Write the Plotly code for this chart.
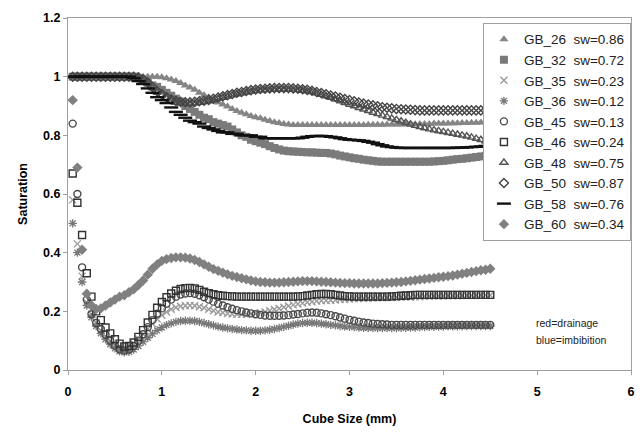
import plotly.graph_objects as go

X = [0.05, 0.10, 0.15, 0.20, 0.25, 0.30, 0.35, 0.40, 0.45, 0.50,
     0.55, 0.60, 0.65, 0.70, 0.75, 0.80, 0.85, 0.90, 0.95, 1.00,
     1.05, 1.10, 1.15, 1.20, 1.25, 1.30, 1.35, 1.40, 1.45, 1.50,
     1.55, 1.60, 1.65, 1.70, 1.75, 1.80, 1.85, 1.90, 1.95, 2.00,
     2.05, 2.10, 2.15, 2.20, 2.25, 2.30, 2.35, 2.40, 2.45, 2.50,
     2.55, 2.60, 2.65, 2.70, 2.75, 2.80, 2.85, 2.90, 2.95, 3.00,
     3.05, 3.10, 3.15, 3.20, 3.25, 3.30, 3.35, 3.40, 3.45, 3.50,
     3.55, 3.60, 3.65, 3.70, 3.75, 3.80, 3.85, 3.90, 3.95, 4.00,
     4.05, 4.10, 4.15, 4.20, 4.25, 4.30, 4.35, 4.40, 4.45, 4.50]

GB_26 = [1, 1, 1, 1, 1, 1, 1, 1, 1, 1,
         1, 1, 1, 1, 1, 1, 1, 1, 1, 0.998,
         0.995, 0.99, 0.985, 0.978, 0.97, 0.963, 0.955, 0.945, 0.937, 0.93,
         0.92, 0.912, 0.905, 0.898, 0.89, 0.883, 0.877, 0.872, 0.866, 0.862,
         0.858, 0.853, 0.849, 0.845, 0.842, 0.839, 0.837, 0.835, 0.835, 0.835,
         0.835, 0.835, 0.835, 0.835, 0.835, 0.835, 0.835, 0.835, 0.835, 0.835,
         0.835, 0.835, 0.835, 0.836, 0.836, 0.836, 0.836, 0.837, 0.837, 0.837,
         0.837, 0.838, 0.838, 0.838, 0.839, 0.839, 0.839, 0.84, 0.84, 0.84,
         0.84, 0.841, 0.841, 0.842, 0.842, 0.843, 0.843, 0.844, 0.845, 0.846]

GB_32 = [1, 1, 1, 1, 1, 1, 1, 1, 1, 1,
         1, 1, 1, 1, 0.995, 0.99, 0.98, 0.97, 0.965, 0.955,
         0.945, 0.935, 0.925, 0.915, 0.9, 0.89, 0.88, 0.87, 0.86, 0.855,
         0.845, 0.84, 0.835, 0.83, 0.82, 0.81, 0.80, 0.795, 0.785, 0.78,
         0.775, 0.77, 0.763, 0.757, 0.752, 0.748, 0.746, 0.745, 0.744, 0.743,
         0.742, 0.742, 0.741, 0.74, 0.74, 0.738, 0.735, 0.731, 0.728, 0.725,
         0.722, 0.72, 0.717, 0.715, 0.713, 0.711, 0.71, 0.71, 0.71, 0.71,
         0.71, 0.71, 0.71, 0.71, 0.71, 0.71, 0.71, 0.711, 0.712, 0.713,
         0.715, 0.717, 0.719, 0.72, 0.722, 0.724, 0.726, 0.728, 0.73, 0.733]

GB_35 = [0.58, 0.43, 0.32, 0.23, 0.19, 0.16, 0.135, 0.115, 0.098, 0.085,
         0.077, 0.075, 0.08, 0.09, 0.105, 0.122, 0.14, 0.158, 0.174, 0.187,
         0.198, 0.207, 0.213, 0.217, 0.219, 0.22, 0.219, 0.216, 0.212, 0.207,
         0.202, 0.198, 0.195, 0.193, 0.191, 0.19, 0.19, 0.19, 0.191, 0.193,
         0.195, 0.198, 0.202, 0.206, 0.21, 0.214, 0.218, 0.222, 0.225, 0.228,
         0.231, 0.233, 0.235, 0.236, 0.237, 0.238, 0.239, 0.24, 0.241, 0.242,
         0.243, 0.244, 0.244, 0.245, 0.245, 0.246, 0.246, 0.247, 0.247, 0.248,
         0.248, 0.249, 0.249, 0.25, 0.25, 0.251, 0.251, 0.252, 0.252, 0.252,
         0.253, 0.253, 0.253, 0.254, 0.254, 0.254, 0.255, 0.255, 0.255, 0.255]

GB_36 = [0.5, 0.4, 0.3, 0.22, 0.18, 0.15, 0.125, 0.105, 0.088, 0.074,
         0.064, 0.06, 0.062, 0.07, 0.082, 0.096, 0.11, 0.123, 0.135, 0.145,
         0.153, 0.159, 0.164, 0.167, 0.168, 0.168, 0.167, 0.164, 0.16, 0.156,
         0.152, 0.148, 0.145, 0.142, 0.14, 0.138, 0.136, 0.135, 0.134, 0.134,
         0.134, 0.135, 0.137, 0.14, 0.143, 0.147, 0.151, 0.155, 0.158, 0.16,
         0.161, 0.161, 0.16, 0.158, 0.156, 0.154, 0.152, 0.15, 0.148, 0.147,
         0.146, 0.145, 0.144, 0.144, 0.143, 0.143, 0.143, 0.143, 0.143, 0.143,
         0.144, 0.144, 0.145, 0.145, 0.146, 0.146, 0.147, 0.147, 0.148, 0.148,
         0.149, 0.149, 0.149, 0.149, 0.15, 0.15, 0.15, 0.15, 0.15, 0.15]

GB_45 = [0.84, 0.6, 0.35, 0.24, 0.19, 0.16, 0.14, 0.12, 0.1, 0.083,
         0.07, 0.066, 0.07, 0.082, 0.1, 0.122, 0.146, 0.17, 0.192, 0.21,
         0.226, 0.24, 0.25, 0.257, 0.261, 0.262, 0.26, 0.255, 0.248, 0.24,
         0.233, 0.226, 0.22, 0.214, 0.209, 0.204, 0.2, 0.196, 0.193, 0.19,
         0.188, 0.186, 0.185, 0.185, 0.185, 0.186, 0.187, 0.189, 0.191, 0.193,
         0.195, 0.196, 0.195, 0.193, 0.19, 0.187, 0.183, 0.179, 0.175, 0.171,
         0.168, 0.165, 0.162, 0.16, 0.158, 0.157, 0.156, 0.155, 0.154, 0.154,
         0.154, 0.154, 0.154, 0.154, 0.154, 0.154, 0.154, 0.154, 0.154, 0.154,
         0.154, 0.154, 0.154, 0.154, 0.154, 0.154, 0.154, 0.154, 0.154, 0.154]

GB_46 = [0.67, 0.57, 0.46, 0.33, 0.25, 0.2, 0.17, 0.145, 0.125, 0.105,
         0.09, 0.08, 0.082, 0.094, 0.113, 0.136, 0.162, 0.188, 0.212, 0.232,
         0.248, 0.261, 0.27, 0.276, 0.279, 0.28, 0.278, 0.273, 0.267, 0.262,
         0.258, 0.255, 0.253, 0.252, 0.251, 0.25, 0.25, 0.25, 0.25, 0.25,
         0.25, 0.25, 0.25, 0.25, 0.25, 0.25, 0.25, 0.25, 0.251, 0.252,
         0.254, 0.256, 0.258, 0.259, 0.259, 0.258, 0.256, 0.254, 0.252, 0.251,
         0.25, 0.25, 0.25, 0.25, 0.25, 0.25, 0.25, 0.25, 0.251, 0.252,
         0.253, 0.254, 0.255, 0.256, 0.256, 0.256, 0.256, 0.256, 0.256, 0.256,
         0.256, 0.256, 0.256, 0.256, 0.256, 0.256, 0.256, 0.256, 0.256, 0.256]

GB_48 = [1, 1, 1, 1, 1, 1, 1, 1, 1, 1,
         1, 1, 1, 1, 0.996, 0.987, 0.976, 0.961, 0.946, 0.936,
         0.926, 0.918, 0.913, 0.91, 0.909, 0.909, 0.91, 0.912, 0.914, 0.917,
         0.921, 0.925, 0.929, 0.933, 0.937, 0.941, 0.944, 0.947, 0.95, 0.952,
         0.954, 0.955, 0.956, 0.957, 0.957, 0.957, 0.957, 0.956, 0.955, 0.953,
         0.951, 0.948, 0.944, 0.939, 0.934, 0.929, 0.923, 0.917, 0.911, 0.905,
         0.9, 0.894, 0.889, 0.884, 0.878, 0.873, 0.868, 0.863, 0.858, 0.853,
         0.848, 0.843, 0.838, 0.833, 0.829, 0.825, 0.821, 0.818, 0.815, 0.812,
         0.809, 0.806, 0.803, 0.8, 0.797, 0.793, 0.789, 0.785, 0.78, 0.775]

GB_50 = [1, 1, 1, 1, 1, 1, 1, 1, 1, 1,
         1, 1, 1, 1, 0.998, 0.99, 0.98, 0.965, 0.95, 0.94,
         0.93, 0.922, 0.917, 0.914, 0.913, 0.913, 0.914, 0.916, 0.918, 0.921,
         0.925, 0.929, 0.933, 0.937, 0.941, 0.945, 0.948, 0.951, 0.954, 0.956,
         0.958, 0.959, 0.96, 0.961, 0.961, 0.961, 0.961, 0.96, 0.959, 0.957,
         0.955, 0.952, 0.948, 0.944, 0.94, 0.936, 0.932, 0.928, 0.924, 0.92,
         0.916, 0.912, 0.908, 0.905, 0.902, 0.899, 0.896, 0.894, 0.892, 0.89,
         0.889, 0.888, 0.887, 0.886, 0.885, 0.885, 0.885, 0.885, 0.885, 0.885,
         0.885, 0.885, 0.885, 0.885, 0.885, 0.885, 0.885, 0.885, 0.885, 0.885]

GB_58 = [1, 1, 1, 1, 1, 1, 1, 1, 1, 1,
         1, 1, 1, 0.995, 0.985, 0.975, 0.96, 0.945, 0.93, 0.92,
         0.91, 0.895, 0.88, 0.87, 0.86, 0.85, 0.845, 0.84, 0.83, 0.825,
         0.82, 0.815, 0.81, 0.81, 0.805, 0.805, 0.80, 0.80, 0.80, 0.795,
         0.795, 0.79, 0.79, 0.79, 0.79, 0.79, 0.79, 0.79, 0.79, 0.792,
         0.795, 0.797, 0.798, 0.798, 0.797, 0.795, 0.793, 0.79, 0.787, 0.785,
         0.784, 0.783, 0.781, 0.778, 0.775, 0.77, 0.766, 0.762, 0.76, 0.758,
         0.757, 0.757, 0.757, 0.757, 0.757, 0.757, 0.757, 0.757, 0.757, 0.757,
         0.757, 0.757, 0.758, 0.758, 0.759, 0.76, 0.761, 0.762, 0.764, 0.766]

GB_60 = [0.92, 0.69, 0.41, 0.26, 0.22, 0.208, 0.21, 0.22, 0.23, 0.24,
         0.25, 0.255, 0.265, 0.275, 0.29, 0.305, 0.325, 0.345, 0.36, 0.372,
         0.378, 0.382, 0.384, 0.384, 0.383, 0.38, 0.375, 0.368, 0.36, 0.352,
         0.344, 0.338, 0.332, 0.326, 0.321, 0.317, 0.313, 0.309, 0.305, 0.302,
         0.3, 0.299, 0.298, 0.298, 0.298, 0.299, 0.3, 0.301, 0.302, 0.303,
         0.303, 0.303, 0.302, 0.301, 0.3, 0.299, 0.298, 0.297, 0.296, 0.296,
         0.295, 0.295, 0.295, 0.295, 0.295, 0.295, 0.296, 0.297, 0.298, 0.299,
         0.3, 0.302, 0.304, 0.306, 0.308, 0.31, 0.312, 0.314, 0.316, 0.318,
         0.32, 0.322, 0.325, 0.328, 0.331, 0.334, 0.337, 0.34, 0.342, 0.345]

NAMES = ["GB_26", "GB_32", "GB_35", "GB_36", "GB_45",
         "GB_46", "GB_48", "GB_50", "GB_58", "GB_60"]
SW = ["0.86", "0.72", "0.23", "0.12", "0.13", "0.24", "0.75", "0.87", "0.76", "0.34"]
SERIES = [GB_26, GB_32, GB_35, GB_36, GB_45, GB_46, GB_48, GB_50, GB_58, GB_60]

STYLES = [
    dict(symbol="triangle-up", color="#858585", size=8, lw=0),
    dict(symbol="square", color="#7a7a7a", size=8, lw=0),
    dict(symbol="x-thin-open", color="#9a9a9a", size=7, lw=1.4),
    dict(symbol="asterisk-open", color="#777777", size=7, lw=1.3),
    dict(symbol="circle-open", color="#4a4a4a", size=7, lw=1.4),
    dict(symbol="square-open", color="#333333", size=7, lw=1.4),
    dict(symbol="triangle-up-open", color="#555555", size=7, lw=1.4),
    dict(symbol="diamond-open", color="#444444", size=7, lw=1.4),
    dict(symbol="line-ew-open", color="#111111", size=10, lw=2.4),
    dict(symbol="diamond", color="#808080", size=8, lw=0),
]

fig = go.Figure()
for name, sw, ys, st in zip(NAMES, SW, SERIES, STYLES):
    fig.add_trace(go.Scatter(
        x=X, y=ys, mode="markers",
        name=f"{name}\u00a0\u00a0sw={sw}",
        marker=dict(symbol=st["symbol"], color=st["color"], size=st["size"],
                    line=dict(color=st["color"], width=st["lw"])),
    ))

axis_font = dict(family="Liberation Sans, Arial", size=12.5, color="#000000", weight="bold")

fig.update_layout(
    width=643, height=433,
    margin=dict(l=68, r=12, t=18, b=63, autoexpand=False),
    paper_bgcolor="white", plot_bgcolor="white",
    font=dict(family="Liberation Sans, Arial", size=12, color="#000000"),
    showlegend=True,
    legend=dict(
        x=0.737, y=0.986, xanchor="left", yanchor="top",
        bgcolor="white", bordercolor="#a0a0a0", borderwidth=1,
        font=dict(family="Liberation Sans, Arial", size=13.5, color="#222222"),
        itemwidth=30, tracegroupgap=0,
    ),
    xaxis=dict(
        range=[0, 6], dtick=1, tick0=0, automargin=False,
        showgrid=False, zeroline=False,
        showline=True, linecolor="#a0a0a0", linewidth=1, mirror=True,
        ticks="outside", ticklen=4, tickcolor="#a0a0a0",
        tickfont=axis_font, ticklabelstandoff=6,
        title=dict(text="Cube Size (mm)", font=axis_font, standoff=16),
    ),
    yaxis=dict(
        range=[0, 1.2], dtick=0.2, tick0=0, automargin=False,
        showgrid=False, zeroline=False,
        showline=True, linecolor="#a0a0a0", linewidth=1, mirror=True,
        ticks="outside", ticklen=4, tickcolor="#a0a0a0",
        tickfont=axis_font,
        title=dict(text="Saturation", font=axis_font, standoff=12),
    ),
    annotations=[
        dict(x=4.97, y=0.16, xref="x", yref="y", xanchor="left", yanchor="middle",
             text="red=drainage", showarrow=False,
             font=dict(family="Liberation Sans, Arial", size=10.5, color="#222222")),
        dict(x=4.97, y=0.103, xref="x", yref="y", xanchor="left", yanchor="middle",
             text="blue=imbibition", showarrow=False,
             font=dict(family="Liberation Sans, Arial", size=10.5, color="#222222")),
    ],
)

fig.write_html("out.html")
